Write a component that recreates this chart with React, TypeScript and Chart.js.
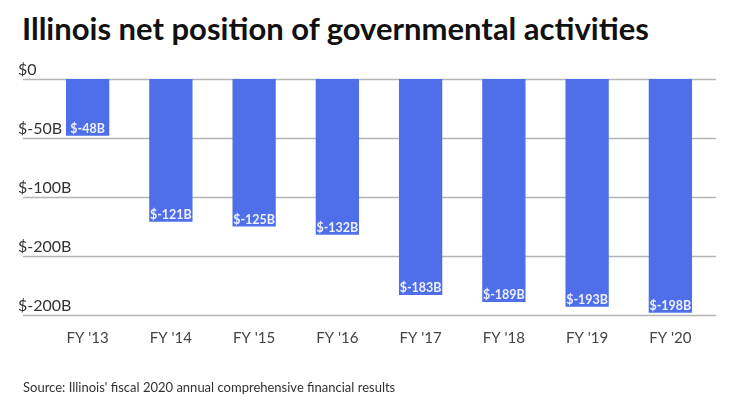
import React, { useEffect, useRef } from "react";
import { Chart, registerables } from "chart.js";

Chart.register(...registerables);

const categories = ["FY '13", "FY '14", "FY '15", "FY '16", "FY '17", "FY '18", "FY '19", "FY '20"];
const netPosition = [-48, -121, -125, -132, -183, -189, -193, -198];
const tickValues = [0, -50, -100, -150, -200];
const tickLabels = ["$0", "$-50B", "$-100B", "$-200B", "$-200B"];

const titleText = "Illinois net position of governmental activities";
const sourceText = "Source: Illinois' fiscal 2020 annual comprehensive financial results";

const FONT = "Lato, 'Open Sans', sans-serif";

const gridAndLabels = {
  id: "gridAndLabels",
  beforeDatasetsDraw(chart: any) {
    const { ctx, chartArea } = chart;
    const y = chart.scales.y;
    ctx.save();
    tickValues.forEach((v, i) => {
      const py = Math.round(y.getPixelForValue(v)) + 0.5;
      ctx.strokeStyle = "#b4b4b4";
      ctx.lineWidth = 1.5;
      ctx.beginPath();
      ctx.moveTo(chartArea.left - 23, py);
      ctx.lineTo(chartArea.right + 4, py);
      ctx.stroke();
      ctx.fillStyle = "#333333";
      ctx.font = `16px ${FONT}`;
      ctx.textAlign = "left";
      ctx.textBaseline = "alphabetic";
      ctx.fillText(tickLabels[i], chartArea.left - 28, py - 5);
    });
    ctx.restore();
  },
  afterDatasetsDraw(chart: any) {
    const { ctx } = chart;
    const meta = chart.getDatasetMeta(0);
    ctx.save();
    ctx.fillStyle = "#eef0ff";
    ctx.font = `bold 12.5px ${FONT}`;
    ctx.textAlign = "center";
    ctx.textBaseline = "middle";
    meta.data.forEach((bar: any, i: number) => {
      ctx.fillText(`$${netPosition[i]}B`, bar.x, bar.y - 7);
    });
    ctx.restore();
  },
};

export default function App() {
  const canvasRef = useRef<HTMLCanvasElement | null>(null);

  useEffect(() => {
    if (!canvasRef.current) return;
    const chart = new Chart(canvasRef.current, {
      type: "bar",
      data: {
        labels: categories,
        datasets: [
          {
            data: netPosition,
            backgroundColor: "#4e6fe9",
            borderWidth: 0,
            barPercentage: 0.52,
            categoryPercentage: 1,
          },
        ],
      },
      options: {
        animation: false,
        responsive: true,
        maintainAspectRatio: false,
        layout: { padding: { left: 46, right: 28, top: 79, bottom: 61 } },
        plugins: { legend: { display: false }, tooltip: { enabled: false } },
        scales: {
          x: {
            grid: { display: false, drawTicks: false },
            border: { display: false },
            ticks: { color: "#444444", font: { family: FONT, size: 15 }, padding: 14 },
            afterFit(scale: any) {
              scale.height = 40;
            },
          },
          y: {
            display: false,
            min: -200,
            max: 0,
          },
        },
      },
      plugins: [gridAndLabels],
    });
    if ((document as any).fonts && (document as any).fonts.ready) {
      (document as any).fonts.ready.then(() => chart.update());
    }
    return () => chart.destroy();
  }, []);

  return (
    <div style={{ position: "fixed", left: 0, top: 0, width: 740, height: 416, background: "#ffffff", overflow: "hidden" }}>
      <div
        style={{
          position: "absolute",
          left: 22,
          top: 8,
          fontFamily: FONT,
          fontWeight: 700,
          fontSize: 31,
          color: "#111111",
          whiteSpace: "nowrap",
          lineHeight: "40px",
        }}
      >
        {titleText}
      </div>
      <div style={{ position: "absolute", left: 0, top: 0, width: 740, height: 416 }}>
        <canvas ref={canvasRef} />
      </div>
      <div
        style={{
          position: "absolute",
          left: 23,
          top: 378,
          fontFamily: FONT,
          fontSize: 13,
          color: "#333333",
          whiteSpace: "nowrap",
          lineHeight: "18px",
        }}
      >
        {sourceText}
      </div>
    </div>
  );
}
